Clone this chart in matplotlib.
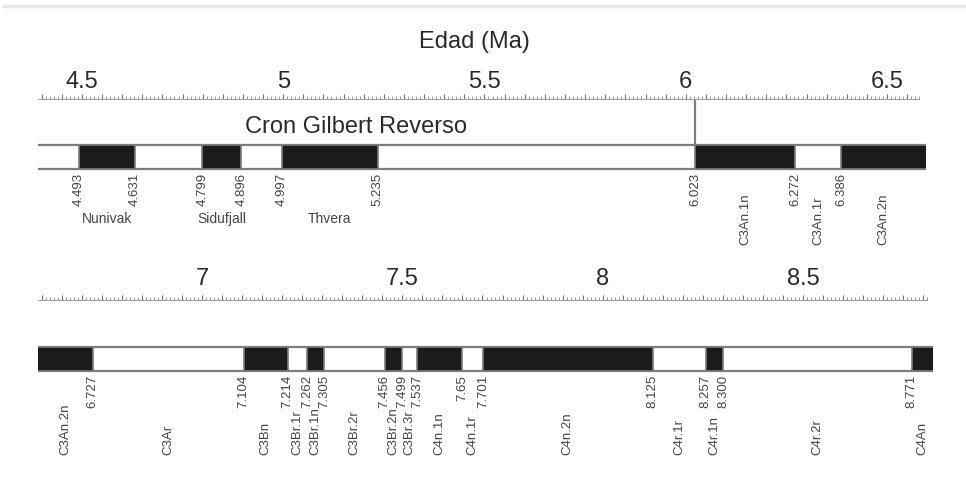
import numpy as np
import matplotlib.pyplot as plt
from matplotlib.ticker import FixedLocator, FuncFormatter

plt.rcParams['font.family'] = ['Liberation Sans', 'DejaVu Sans']

# límites de polaridad (Ma) con su etiqueta
boundaries = [4.493, 4.631, 4.799, 4.896, 4.997, 5.235, 6.023, 6.272, 6.386,
              6.727, 7.104, 7.214, 7.262, 7.305, 7.456, 7.499, 7.537, 7.65,
              7.701, 8.125, 8.257, 8.300, 8.771]
boundary_labels = ["4.493", "4.631", "4.799", "4.896", "4.997", "5.235",
                   "6.023", "6.272", "6.386", "6.727", "7.104", "7.214",
                   "7.262", "7.305", "7.456", "7.499", "7.537", "7.65",
                   "7.701", "8.125", "8.257", "8.300", "8.771"]

# subcrones normales dentro de Gilbert
gilbert_names = ["Nunivak", "Sidufjall", "Thvera"]
gilbert_start = [4.493, 4.799, 4.997]
gilbert_end = [4.631, 4.896, 5.235]
gilbert_top = 6.023

# crones a partir de C3An (n = normal, r = reverso)
chron_names = ["C3An.1n", "C3An.1r", "C3An.2n", "C3Ar", "C3Bn", "C3Br.1r",
               "C3Br.1n", "C3Br.2r", "C3Br.2n", "C3Br.3r", "C4n.1n", "C4n.1r",
               "C4n.2n", "C4r.1r", "C4r.1n", "C4r.2r", "C4An"]
chron_start = [6.023, 6.272, 6.386, 6.727, 7.104, 7.214, 7.262, 7.305, 7.456,
               7.499, 7.537, 7.65, 7.701, 8.125, 8.257, 8.300, 8.771]
chron_end = [6.272, 6.386, 6.727, 7.104, 7.214, 7.262, 7.305, 7.456, 7.499,
             7.537, 7.65, 7.701, 8.125, 8.257, 8.300, 8.771, 9.105]

W, H = 966, 490
BLACK = "#1b1b1b"
EDGE = "#7d7d7d"
TXT = "#2a2a2a"
SMALL = "#454545"

# layout in pixels (y measured from the top)
panels = [
    dict(xlim=(4.391, 6.596), ruler=(4.39, 6.58), left=38, right=925.7,
         ruler_y=99, pad=1.0, bar=(145, 169), lab_y=173, name_y=245, gilbert=True),
    dict(xlim=(6.591, 8.824), ruler=(6.59, 8.81), left=38, right=933,
         ruler_y=300, pad=4.0, bar=(347, 371), lab_y=375, name_y=455, gilbert=False),
]

fig = plt.figure(figsize=(W / 100, H / 100), dpi=100)

for p in panels:
    x0, x1 = p["xlim"]
    ax = fig.add_axes([p["left"] / W, 0, (p["right"] - p["left"]) / W, 1])
    ax.set_xlim(x0, x1)
    ax.set_ylim(H, 0)
    ax.axis("off")

    # barra de polaridad
    top, bot = p["bar"]
    ax.hlines([top, bot], x0, x1, color=EDGE, lw=1.6, zorder=1)
    segs = [(s, e - s) for name, s, e in zip(chron_names, chron_start, chron_end)
            if e > x0 and s < x1 and name.endswith("n")]
    if p["gilbert"]:
        segs += [(s, e - s) for s, e in zip(gilbert_start, gilbert_end)]
    ax.broken_barh(segs, (top, bot - top), facecolors=BLACK, edgecolors=EDGE,
                   linewidth=1.2, zorder=2)

    # edades de los límites
    for b, lbl in zip(boundaries, boundary_labels):
        if x0 < b < x1:
            ax.text(b, p["lab_y"], lbl, rotation=90, ha="center", va="top",
                    fontsize=9.5, color=SMALL)

    # nombres de crones
    for name, s, e in zip(chron_names, chron_start, chron_end):
        if e > x0 and s < x1:
            mid = (max(s, x0) + min(e, x1)) / 2
            ax.text(mid, p["name_y"], name, rotation=90, ha="center",
                    va="bottom", fontsize=9.5, color=SMALL)

    if p["gilbert"]:
        for name, s, e in zip(gilbert_names, gilbert_start, gilbert_end):
            ax.text((s + e) / 2, 223, name, ha="center", va="baseline",
                    fontsize=10, color=SMALL)
        ax.vlines(gilbert_top, p["ruler_y"], top, color=EDGE, lw=1.6)
        ax.text(5.18, 133, "Cron Gilbert Reverso", ha="center", va="baseline",
                fontsize=17, color=TXT)

    # regla de edades
    r0, r1 = p["ruler"]
    rax = fig.add_axes([p["left"] / W, 1 - p["ruler_y"] / H,
                        (p["right"] - p["left"]) / W, 1e-4])
    rax.set_xlim(x0, x1)
    rax.patch.set_visible(False)
    rax.set_yticks([])
    for side in ["left", "right", "bottom"]:
        rax.spines[side].set_visible(False)
    rax.spines["top"].set_bounds(r0, r1)
    rax.spines["top"].set_color("#a0a0a0")
    rax.spines["top"].set_linewidth(0.8)
    rax.xaxis.tick_top()
    major = np.round(np.arange(np.ceil(r0 / 0.05) * 0.05, r1 + 1e-9, 0.05), 2)
    minor = np.round(np.arange(r0, r1 + 1e-9, 0.01), 2)
    rax.xaxis.set_major_locator(FixedLocator(major))
    rax.xaxis.set_minor_locator(FixedLocator(minor))
    rax.xaxis.set_major_formatter(FuncFormatter(
        lambda v, pos: f"{v:g}" if abs(v * 2 - round(v * 2)) < 1e-6 else ""))
    rax.tick_params(which="major", length=3.5, width=0.8, color="#707070",
                    pad=p["pad"], labelsize=17, labelcolor=TXT)
    rax.tick_params(which="minor", length=2, width=0.6, color="#8a8a8a")

fig.text(474 / W, 1 - 48 / H, "Edad (Ma)", ha="center", va="baseline",
         fontsize=17, color=TXT)
fig.add_artist(plt.Line2D([4 / W, 1], [1 - 6 / H, 1 - 6 / H], color="#e6e6e6",
                          lw=2.5))

fig.savefig("out.png", dpi=100, facecolor="white")
